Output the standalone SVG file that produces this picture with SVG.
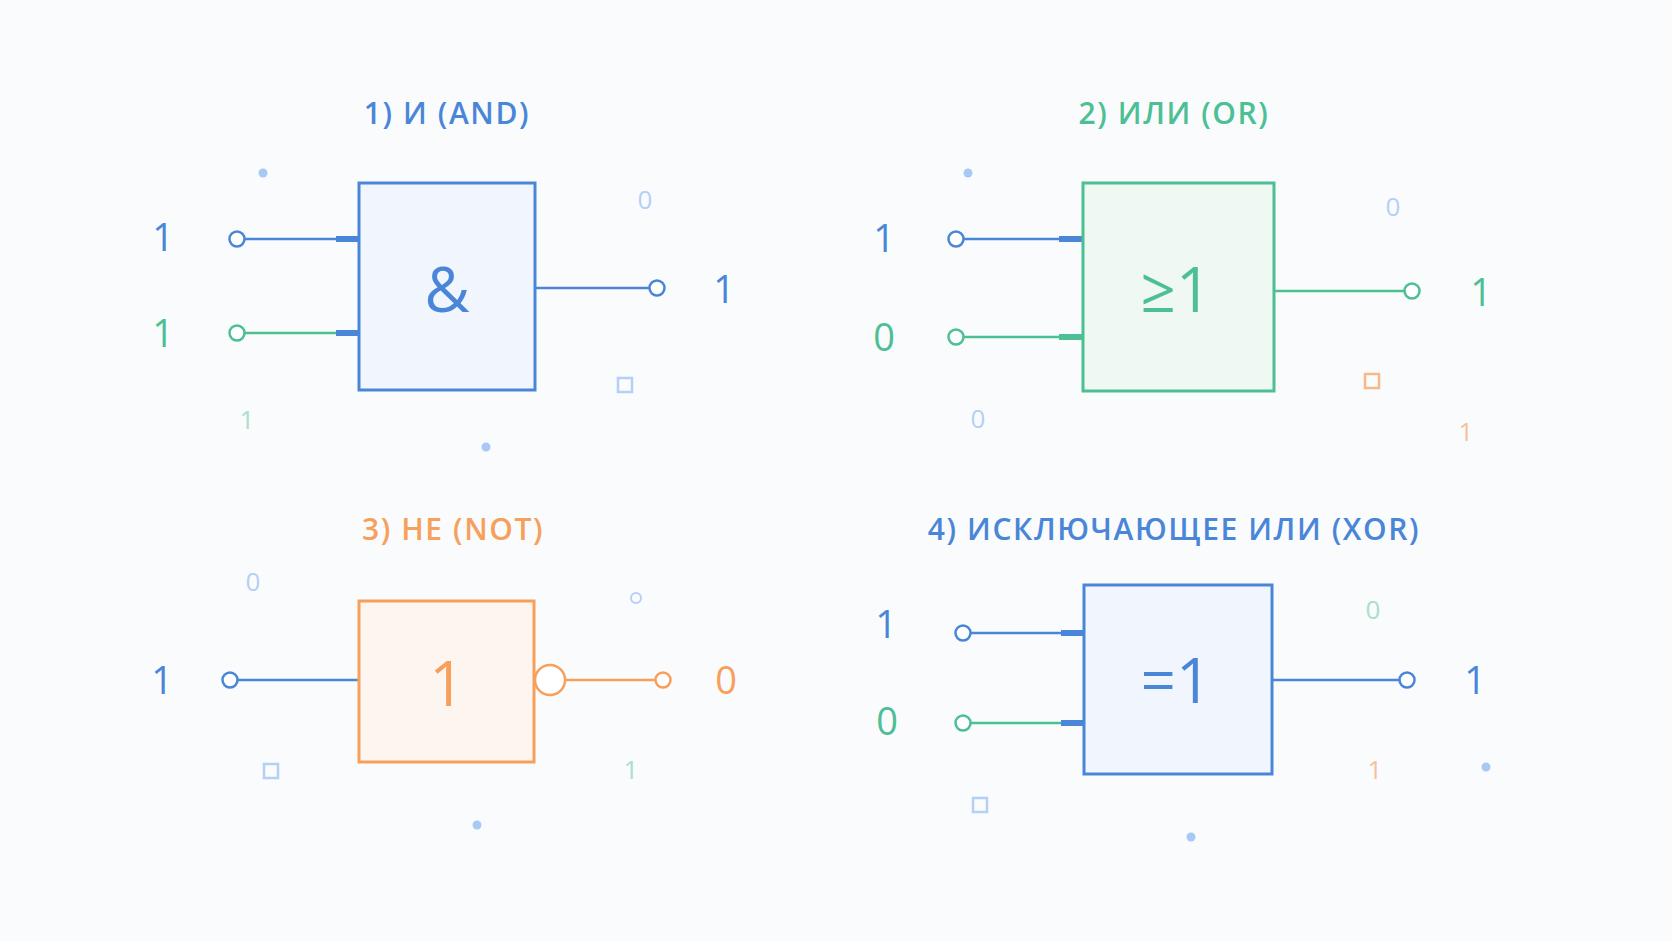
<svg xmlns="http://www.w3.org/2000/svg" width="1672" height="941" viewBox="0 0 1672 941">
<style>
text{font-family:"Open Sans","Noto Sans","DejaVu Sans",sans-serif;text-anchor:middle;dominant-baseline:central}
.t{font-size:30px;letter-spacing:1.6px;font-weight:600}
.l{font-size:38px}
.g{font-size:62px}
.d{font-size:26px}
.b{stroke:#4a86d8;fill:#4a86d8}
.gr{stroke:#4cbf94;fill:#4cbf94}
.o{stroke:#f6a05c;fill:#f6a05c}
.w{stroke-width:2.5;fill:none}
.pin{fill:#fff;stroke-width:2.5}
.stub{stroke-width:6}
text.b,text.gr,text.o{stroke:none}
</style>
<rect width="1672" height="941" fill="#fafbfc"/>
<g id="decor">
<circle cx="263" cy="173" r="4.5" fill="#a8c8f5"/>
<text x="645" y="199" class="d" fill="#b4d0f7">0</text>
<rect x="618" y="378" width="14" height="14" fill="none" stroke="#b4d0f7" stroke-width="2.5"/>
<text x="247" y="419" class="d" fill="#a8e0c8">1</text>
<circle cx="486" cy="447" r="4.5" fill="#a8c8f5"/>
<circle cx="968" cy="173" r="4.5" fill="#a8c8f5"/>
<text x="1393" y="206" class="d" fill="#b4d0f7">0</text>
<rect x="1365" y="374" width="14" height="14" fill="none" stroke="#f8b888" stroke-width="2.5"/>
<text x="978" y="418" class="d" fill="#b4d0f7">0</text>
<text x="1466" y="431" class="d" fill="#f8c09a">1</text>
<text x="253" y="581" class="d" fill="#b4d0f7">0</text>
<circle cx="636" cy="598" r="5" fill="none" stroke="#b4d0f7" stroke-width="2"/>
<rect x="264" y="764" width="14" height="14" fill="none" stroke="#b4d0f7" stroke-width="2.5"/>
<text x="631" y="769" class="d" fill="#a8e0c8">1</text>
<circle cx="477" cy="825" r="4.5" fill="#a8c8f5"/>
<text x="1373" y="609" class="d" fill="#a8e0c8">0</text>
<text x="1375" y="769" class="d" fill="#f8c09a">1</text>
<circle cx="1486" cy="767" r="4.5" fill="#a8c8f5"/>
<rect x="973" y="798" width="14" height="14" fill="none" stroke="#b4d0f7" stroke-width="2.5"/>
<circle cx="1191" cy="837" r="4.5" fill="#a8c8f5"/>
</g>
<g id="connectors">
<line x1="241" y1="239" x2="359" y2="239" class="b w"/>
<line x1="336" y1="239" x2="358" y2="239" class="b stub"/>
<line x1="241" y1="333" x2="359" y2="333" class="gr w"/>
<line x1="336" y1="333" x2="358" y2="333" class="b stub"/>
<line x1="535" y1="288" x2="652" y2="288" class="b w"/>
<line x1="960" y1="239" x2="1083" y2="239" class="b w"/>
<line x1="1059" y1="239" x2="1082" y2="239" class="b stub"/>
<line x1="960" y1="337" x2="1083" y2="337" class="gr w"/>
<line x1="1059" y1="337" x2="1082" y2="337" class="gr stub"/>
<line x1="1274" y1="291" x2="1407" y2="291" class="gr w"/>
<line x1="235" y1="680" x2="359" y2="680" class="b w"/>
<line x1="565" y1="680" x2="658" y2="680" class="o w"/>
<line x1="968" y1="633" x2="1084" y2="633" class="b w"/>
<line x1="1061" y1="633" x2="1083" y2="633" class="b stub"/>
<line x1="968" y1="723" x2="1084" y2="723" class="gr w"/>
<line x1="1061" y1="723" x2="1083" y2="723" class="b stub"/>
<line x1="1272" y1="680" x2="1402" y2="680" class="b w"/>
</g>
<g id="and">
<text x="447" y="112" class="t b">1) И (AND)</text>
<rect x="359" y="183" width="176" height="207" fill="#f1f5fd" stroke="#4a86d8" stroke-width="3"/>
<text x="447" y="288" class="g b">&amp;</text>
<circle cx="237" cy="239" r="7.5" class="pin" stroke="#4a86d8"/>
<circle cx="237" cy="333" r="7.5" class="pin" stroke="#4cbf94"/>
<circle cx="657" cy="288" r="7.5" class="pin" stroke="#4a86d8"/>
<text x="163" y="236" class="l b">1</text>
<text x="163" y="332" class="l gr">1</text>
<text x="724" y="288" class="l b">1</text>
</g>
<g id="or">
<text x="1174" y="112" class="t gr">2) ИЛИ (OR)</text>
<rect x="1083" y="183" width="191" height="208" fill="#eff8f3" stroke="#4cbf94" stroke-width="3"/>
<text x="1176" y="288" class="g gr">≥1</text>
<circle cx="956" cy="239" r="7.5" class="pin" stroke="#4a86d8"/>
<circle cx="956" cy="337" r="7.5" class="pin" stroke="#4cbf94"/>
<circle cx="1412" cy="291" r="7.5" class="pin" stroke="#4cbf94"/>
<text x="884" y="237" class="l b">1</text>
<text x="884" y="336" class="l gr">0</text>
<text x="1481" y="291" class="l gr">1</text>
</g>
<g id="not">
<text x="453" y="528" class="t o">3) НЕ (NOT)</text>
<rect x="359" y="601" width="175" height="161" fill="#fdf5ef" stroke="#f6a05c" stroke-width="3"/>
<text x="447" y="682" class="g o">1</text>
<circle cx="550" cy="680" r="15" class="pin" stroke="#f6a05c" stroke-width="3"/>
<circle cx="230" cy="680" r="7.5" class="pin" stroke="#4a86d8"/>
<circle cx="663" cy="680" r="7.5" class="pin" stroke="#f6a05c"/>
<text x="162" y="679" class="l b">1</text>
<text x="726" y="679" class="l o">0</text>
</g>
<g id="xor">
<text x="1174" y="528" class="t b">4) ИСКЛЮЧАЮЩЕЕ ИЛИ (XOR)</text>
<rect x="1084" y="585" width="188" height="189" fill="#f1f5fd" stroke="#4a86d8" stroke-width="3"/>
<text x="1176" y="679" class="g b">=1</text>
<circle cx="963" cy="633" r="7.5" class="pin" stroke="#4a86d8"/>
<circle cx="963" cy="723" r="7.5" class="pin" stroke="#4cbf94"/>
<circle cx="1407" cy="680" r="7.5" class="pin" stroke="#4a86d8"/>
<text x="886" y="623" class="l b">1</text>
<text x="887" y="720" class="l gr">0</text>
<text x="1475" y="679" class="l b">1</text>
</g>
</svg>
